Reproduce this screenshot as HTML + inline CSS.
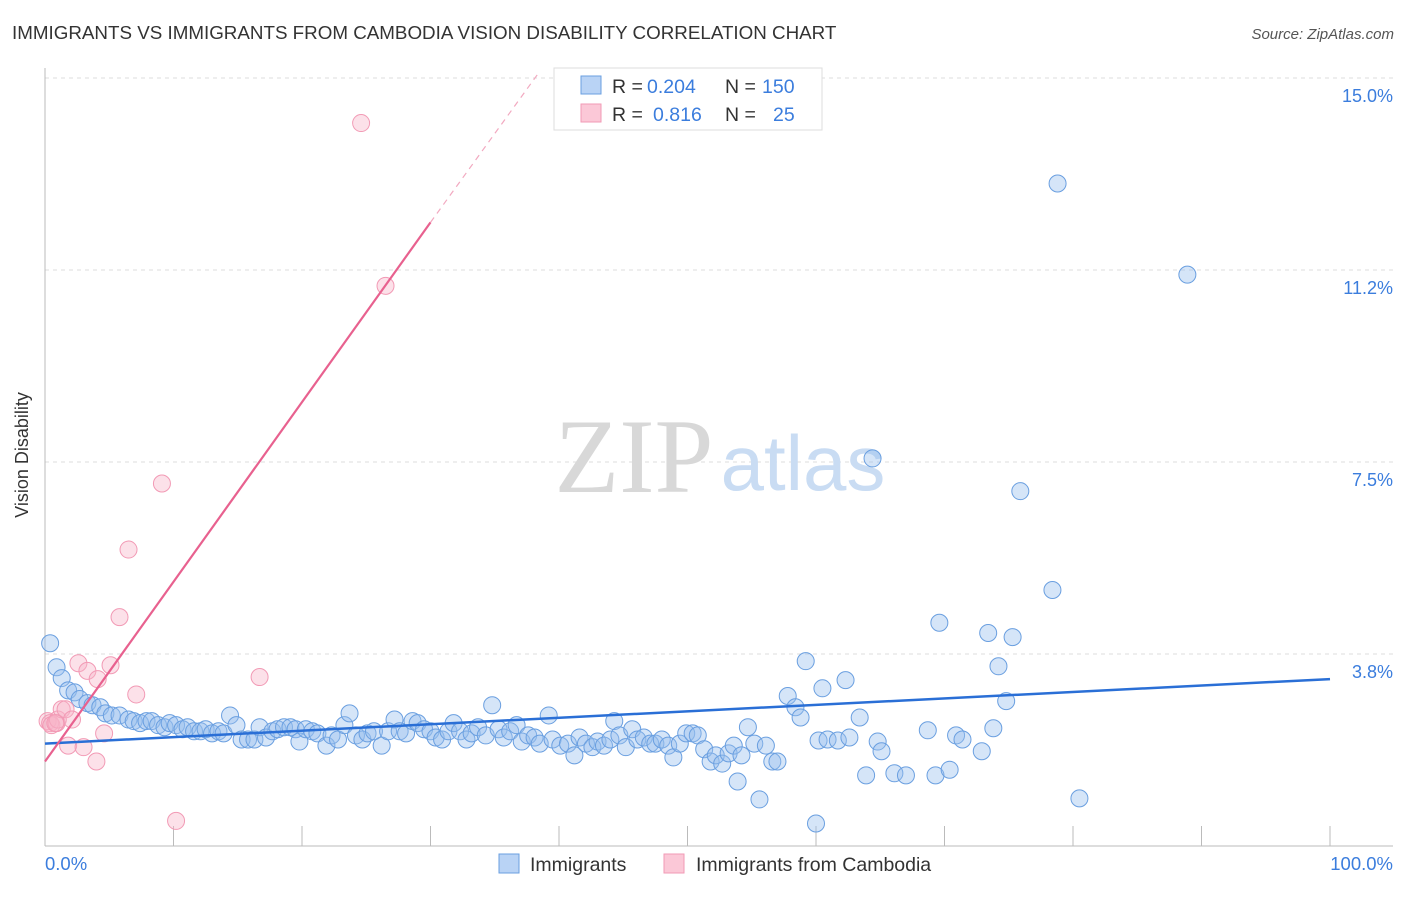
<!DOCTYPE html>
<html><head><meta charset="utf-8"><style>
body{margin:0;background:#fff;font-family:"Liberation Sans",sans-serif;}
</style></head><body>
<svg width="1406" height="892" xmlns="http://www.w3.org/2000/svg" font-family="Liberation Sans, sans-serif" id="chart">
<text x="12" y="39" font-size="18.8" fill="#333">IMMIGRANTS VS IMMIGRANTS FROM CAMBODIA VISION DISABILITY CORRELATION CHART</text>
<text x="1394" y="39" font-size="15" fill="#555" text-anchor="end" font-style="italic">Source: ZipAtlas.com</text>
<g id="grid"></g>
<g><text x="634" y="492" font-size="106" fill="#d8d8d8" font-family="Liberation Serif, serif" text-anchor="middle">ZIP</text><text x="803" y="490" font-size="78" fill="#c9dcf3" text-anchor="middle">atlas</text></g>
<line x1="45" y1="68" x2="45" y2="846" stroke="#bbb"/>
<line x1="45" y1="846" x2="1393" y2="846" stroke="#bbb"/>
<text x="28" y="455" font-size="18" fill="#333" text-anchor="middle" transform="rotate(-90 28 455)">Vision Disability</text>
<text x="45" y="870" font-size="18.5" fill="#3b7ddd">0.0%</text>
<text x="1393" y="870" font-size="18.5" fill="#3b7ddd" text-anchor="end">100.0%</text>
<g id="pts"></g>
<g id="lines"></g>
<g>
<rect x="554" y="68" width="268" height="62" fill="#fff" stroke="#ddd"/>
<rect x="581" y="76" width="20" height="18" fill="#b9d3f5" stroke="#6a9fe0"/>
<rect x="581" y="104" width="20" height="18" fill="#fbc8d7" stroke="#f29ab5"/>
<text x="612" y="93" font-size="19.5" fill="#333">R =</text>
<text x="647" y="93" font-size="19.5" fill="#3b7ddd">0.204</text>
<text x="725" y="93" font-size="19.5" fill="#333">N =</text>
<text x="762" y="93" font-size="19.5" fill="#3b7ddd">150</text>
<text x="612" y="121" font-size="19.5" fill="#333">R =</text>
<text x="653" y="121" font-size="19.5" fill="#3b7ddd">0.816</text>
<text x="725" y="121" font-size="19.5" fill="#333">N =</text>
<text x="773" y="121" font-size="19.5" fill="#3b7ddd">25</text>
</g>
<g>
<rect x="499" y="854" width="20" height="19" fill="#b9d3f5" stroke="#6a9fe0"/>
<text x="530" y="871" font-size="19.5" fill="#333">Immigrants</text>
<rect x="664" y="854" width="20" height="19" fill="#fbc8d7" stroke="#f29ab5"/>
<text x="696" y="871" font-size="19.5" fill="#333">Immigrants from Cambodia</text>
</g>
</svg>
<script>
const yTicks=[3.75,7.5,11.25,15];
const yTickLabels=["3.8%","7.5%","11.2%","15.0%"];
const xTicks=[0,10,20,30,40,50,60,70,80,90,100];
const blueX=[0.4,0.9,1.3,1.8,2.3,2.7,3.3,3.7,4.3,4.7,5.2,5.8,6.5,6.9,7.4,7.9,8.3,8.8,9.3,9.7,10.2,10.7,11.1,11.6,12.1,12.5,13.0,13.5,13.9,14.4,14.9,15.3,15.8,16.3,16.7,17.2,17.7,18.1,18.6,19.1,19.5,19.8,20.3,20.8,21.2,21.9,22.3,22.8,23.3,23.7,24.2,24.7,25.1,25.6,26.2,26.7,27.2,27.6,28.1,28.6,29.0,29.5,30.0,30.4,30.9,31.4,31.8,32.3,32.8,33.2,33.7,34.3,34.8,35.3,35.7,36.2,36.7,37.1,37.6,38.1,38.5,39.2,39.5,40.1,40.7,41.2,41.6,42.1,42.6,43.0,43.5,44.0,44.3,44.7,45.2,45.7,46.1,46.6,47.1,47.5,48.0,48.5,48.9,49.4,49.9,50.4,50.8,51.3,51.8,52.2,52.7,53.2,53.6,53.9,54.2,54.7,55.2,55.6,56.1,56.6,57.0,57.8,58.4,58.8,59.2,60.2,60.5,60.9,61.7,62.3,62.6,63.4,63.9,64.4,64.8,65.1,66.1,67.0,68.7,69.3,69.6,70.4,70.9,71.4,72.9,73.4,73.8,74.2,74.8,75.3,75.9,78.4,78.8,80.5,88.9,60.0];
const blueY=[4.27,3.80,3.59,3.35,3.31,3.18,3.10,3.06,3.02,2.90,2.86,2.86,2.78,2.75,2.71,2.75,2.75,2.67,2.63,2.71,2.67,2.59,2.63,2.55,2.55,2.59,2.51,2.55,2.51,2.86,2.67,2.39,2.39,2.39,2.63,2.43,2.55,2.59,2.63,2.63,2.59,2.35,2.59,2.55,2.51,2.27,2.47,2.39,2.67,2.90,2.47,2.39,2.51,2.55,2.27,2.55,2.78,2.55,2.51,2.75,2.71,2.59,2.55,2.43,2.39,2.55,2.71,2.55,2.39,2.51,2.63,2.47,3.06,2.59,2.43,2.55,2.67,2.35,2.47,2.43,2.31,2.86,2.39,2.27,2.31,2.08,2.43,2.31,2.24,2.35,2.27,2.39,2.75,2.47,2.24,2.59,2.39,2.43,2.31,2.31,2.39,2.27,2.04,2.31,2.51,2.51,2.47,2.20,1.96,2.08,1.92,2.12,2.27,1.57,2.08,2.63,2.31,1.22,2.27,1.96,1.96,3.24,3.02,2.82,3.92,2.37,3.39,2.39,2.37,3.55,2.43,2.82,1.69,7.88,2.35,2.16,1.73,1.69,2.57,1.69,4.67,1.80,2.47,2.39,2.16,4.47,2.61,3.82,3.14,4.39,7.24,5.31,13.25,1.24,11.47,0.75];
const pinkX=[0.2,0.4,0.5,0.9,1.0,1.3,1.6,1.8,2.1,2.6,3.0,3.3,4.0,4.1,4.6,5.1,5.8,6.5,7.1,9.1,10.2,16.7,24.6,26.5,0.8];
const pinkY=[2.75,2.71,2.67,2.71,2.78,2.98,2.98,2.27,2.78,3.88,2.24,3.73,1.96,3.57,2.51,3.84,4.78,6.10,3.27,7.39,0.80,3.61,14.43,11.25,2.71];
const blueTrend=[2.31,3.57];
const pinkTrend=[1.96,12.49,15.37];
const pinkTrendX=[0,30,38.3];
const Y_OFF=0.31;
const NS="http://www.w3.org/2000/svg";
function xs(v){return 45+v*12.85;}
function ys(v){return 846-(v-Y_OFF)*51.2;}
function yg(v){return 846-v*51.2;}
function mk(t,a,p){const e=document.createElementNS(NS,t);for(const k in a)e.setAttribute(k,a[k]);p.appendChild(e);return e;}
const grid=document.getElementById('grid');
yTicks.forEach((t,i)=>{
  const l=mk('line',{x1:45,x2:1393,y1:yg(t),y2:yg(t),stroke:'#ddd','stroke-dasharray':'4 4'},grid);
  
  
  const tx=mk('text',{x:1393,y:yg(t)+24,'font-size':18,fill:'#3b7ddd','text-anchor':'end'},grid);
  tx.textContent=yTickLabels[i];
  
  
});
xTicks.forEach(t=>{
  const l=mk('line',{x1:xs(t),x2:xs(t),y1:826,y2:846,stroke:'#bbb'},grid);
  
  
});
const pts=document.getElementById('pts');
blueX.forEach((x,i)=>{
  const c=mk('circle',{cx:xs(x),cy:ys(blueY[i]),r:8.5,fill:'rgba(150,190,238,0.4)',stroke:'#6a9fe0','stroke-width':1},pts);
  
  
});
pinkX.forEach((x,i)=>{
  const c=mk('circle',{cx:xs(x),cy:ys(pinkY[i]),r:8.5,fill:'rgba(248,180,200,0.4)',stroke:'#f29ab5','stroke-width':1},pts);
  
  
});
const lines=document.getElementById('lines');
const bl=mk('line',{x1:xs(0),y1:ys(blueTrend[0]),x2:xs(100),y2:ys(blueTrend[1]),stroke:'#2a6fd6','stroke-width':2.5},lines);


const pl=mk('line',{x1:xs(pinkTrendX[0]),y1:ys(pinkTrend[0]),x2:xs(pinkTrendX[1]),y2:ys(pinkTrend[1]),stroke:'#e8618f','stroke-width':2.2},lines);


const pd=mk('line',{x1:xs(pinkTrendX[1]),y1:ys(pinkTrend[1]),x2:xs(pinkTrendX[2]),y2:ys(pinkTrend[2]),stroke:'#f2a9c0','stroke-width':1.2,'stroke-dasharray':'6 5'},lines);


</script>
</body></html>
